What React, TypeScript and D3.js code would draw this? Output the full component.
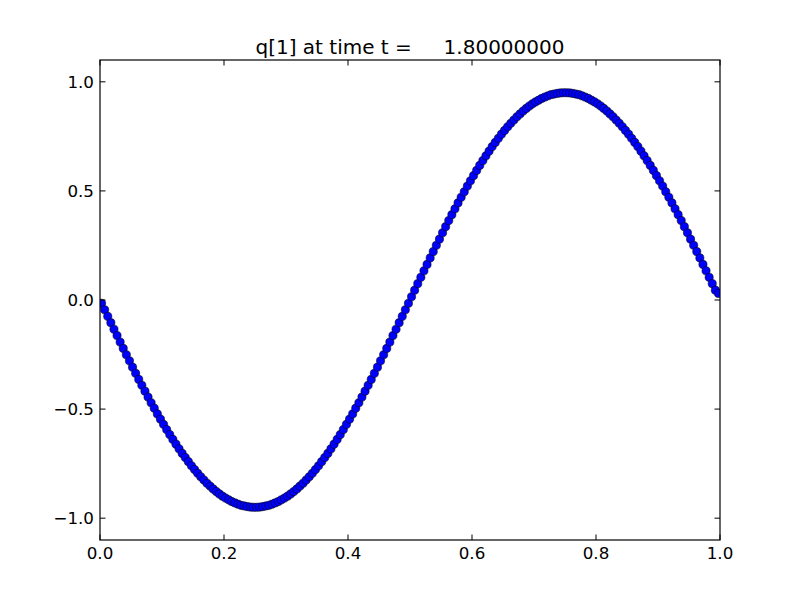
import React from "react";
import * as d3 from "d3";

const titleText = "q[1] at time t =     1.80000000";
const xTicks = [0.0, 0.2, 0.4, 0.6, 0.8, 1.0];
const yTicks = [-1.0, -0.5, 0.0, 0.5, 1.0];
const nCells = 200;
const qValues = [
  -0.015,-0.045,-0.075,-0.104,-0.134,-0.163,-0.193,-0.222,-0.251,-0.279,
  -0.308,-0.336,-0.364,-0.391,-0.418,-0.445,-0.471,-0.496,-0.522,-0.546,
  -0.570,-0.594,-0.617,-0.639,-0.661,-0.682,-0.703,-0.722,-0.741,-0.760,
  -0.777,-0.794,-0.810,-0.825,-0.840,-0.853,-0.866,-0.878,-0.889,-0.899,
  -0.908,-0.916,-0.924,-0.930,-0.936,-0.941,-0.944,-0.947,-0.949,-0.950,
  -0.950,-0.949,-0.947,-0.944,-0.941,-0.936,-0.930,-0.924,-0.916,-0.908,
  -0.899,-0.889,-0.878,-0.866,-0.853,-0.840,-0.825,-0.810,-0.794,-0.777,
  -0.760,-0.741,-0.722,-0.703,-0.682,-0.661,-0.639,-0.617,-0.594,-0.570,
  -0.546,-0.522,-0.496,-0.471,-0.445,-0.418,-0.391,-0.364,-0.336,-0.308,
  -0.279,-0.251,-0.222,-0.193,-0.163,-0.134,-0.104,-0.075,-0.045,-0.015,
  0.015,0.045,0.075,0.104,0.134,0.163,0.193,0.222,0.251,0.279,
  0.308,0.336,0.364,0.391,0.418,0.445,0.471,0.496,0.522,0.546,
  0.570,0.594,0.617,0.639,0.661,0.682,0.703,0.722,0.741,0.760,
  0.777,0.794,0.810,0.825,0.840,0.853,0.866,0.878,0.889,0.899,
  0.908,0.916,0.924,0.930,0.936,0.941,0.944,0.947,0.949,0.950,
  0.950,0.949,0.947,0.944,0.941,0.936,0.930,0.924,0.916,0.908,
  0.899,0.889,0.878,0.866,0.853,0.840,0.825,0.810,0.794,0.777,
  0.760,0.741,0.722,0.703,0.682,0.661,0.639,0.617,0.594,0.570,
  0.546,0.522,0.496,0.471,0.445,0.418,0.391,0.364,0.336,0.308,
  0.279,0.251,0.222,0.193,0.163,0.134,0.104,0.075,0.045,0.030,
];

const W = 800, H = 600;
const L = 100, R = 720, T = 60, B = 540;
const font = "'DejaVu Sans', sans-serif";

export default function App() {
  const x = d3.scaleLinear().domain([0, 1]).range([L, R]);
  const y = d3.scaleLinear().domain([-1.1, 1.1]).range([B, T]);
  const pts = qValues.map((v, i) => ({ xv: (i + 0.5) / nCells, yv: v }));
  const fmt = (v: number) => {
    const s = v.toFixed(1);
    return s.startsWith("-") ? "\u2212" + s.slice(1) : s;
  };
  return (
    <svg width={W} height={H} style={{ position: "absolute", left: 0, top: 0, background: "#fff" }}>
      <rect x={0} y={0} width={W} height={H} fill="#fff" />
      <defs>
        <clipPath id="ax">
          <rect x={L} y={T} width={R - L} height={B - T} />
        </clipPath>
      </defs>
      <rect x={L} y={T} width={R - L} height={B - T} fill="#fff" />
      <g clipPath="url(#ax)">
        {pts.map((p, i) => (
          <circle key={i} cx={x(p.xv)} cy={y(p.yv)} r={4.1} fill="#0000ff" stroke="#000" strokeWidth={0.55} />
        ))}
      </g>
      <rect x={L} y={T} width={R - L} height={B - T} fill="none" stroke="#000" strokeWidth={1.2} />
      {xTicks.map((t) => (
        <g key={"x" + t}>
          <line x1={x(t)} x2={x(t)} y1={B} y2={B - 5.5} stroke="#000" />
          <line x1={x(t)} x2={x(t)} y1={T} y2={T + 5.5} stroke="#000" />
          <text x={x(t)} y={B + 18.5} textAnchor="middle" fontFamily={font} fontSize={16.7} fill="#000">
            {fmt(t)}
          </text>
        </g>
      ))}
      {yTicks.map((t) => (
        <g key={"y" + t}>
          <line x1={L} x2={L + 5.5} y1={y(t)} y2={y(t)} stroke="#000" />
          <line x1={R} x2={R - 5.5} y1={y(t)} y2={y(t)} stroke="#000" />
          <text x={L - 6} y={y(t) + 6} textAnchor="end" fontFamily={font} fontSize={16.7} fill="#000">
            {fmt(t)}
          </text>
        </g>
      ))}
      <text x={(L + R) / 2} y={T - 6} textAnchor="middle" fontFamily={font} fontSize={20} fill="#000" style={{ whiteSpace: "pre" }} xmlSpace="preserve">
        {titleText}
      </text>
    </svg>
  );
}
